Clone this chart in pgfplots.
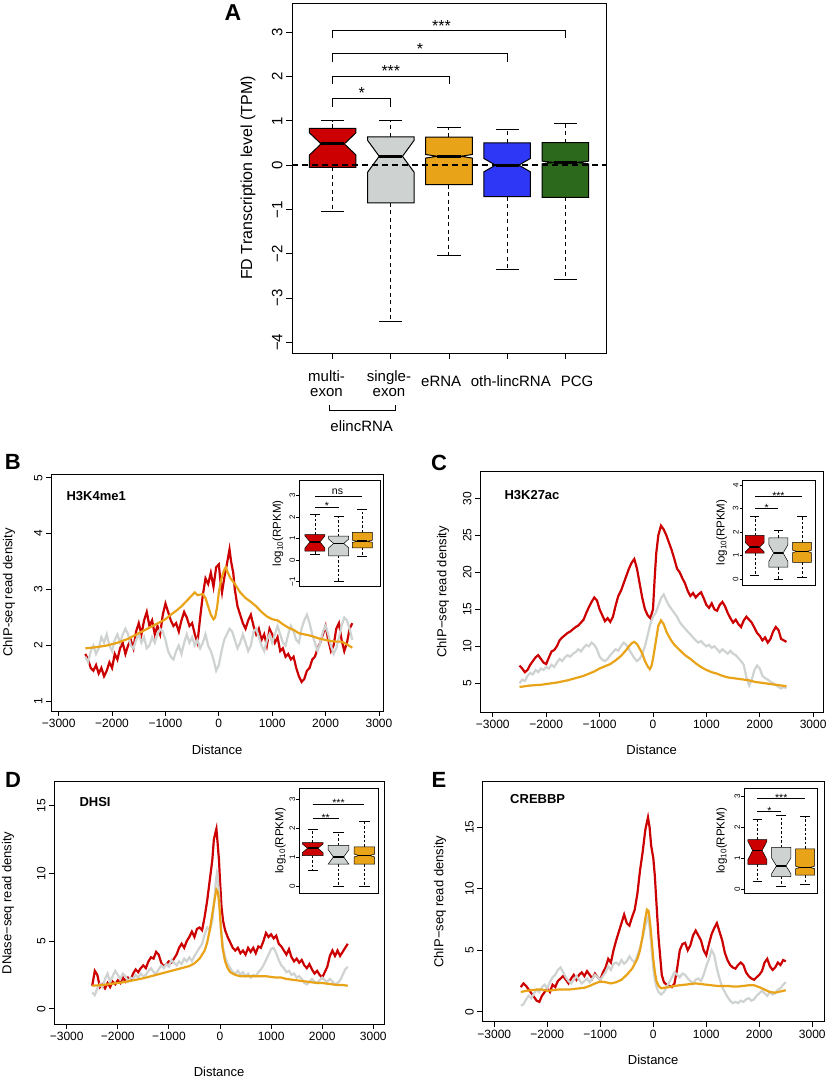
\documentclass[border=0pt]{standalone}
\usepackage{pgfplots}
\pgfplotsset{compat=1.18}
\usepackage{fontspec}
\setmainfont{Liberation Sans}
\definecolor{cred}{RGB}{204,0,0}
\definecolor{cgrey}{RGB}{206,211,209}
\definecolor{corange}{RGB}{233,163,25}
\definecolor{cblue}{RGB}{45,55,245}
\definecolor{cgreen}{RGB}{45,105,28}
\def\boxlw{1pt}\def\medlw{3pt}\def\dashp{on 4pt off 3.5pt}
% #1 center #2 halfwidth #3 lo #4 q1 #5 med #6 q3 #7 hi #8 notch #9 colour
\newcommand{\nbox}[9]{%
  \pgfmathsetmacro\xa{#1-#2}%
  \pgfmathsetmacro\xb{#1+#2}%
  \pgfmathsetmacro\xc{#1-#2/2}%
  \pgfmathsetmacro\xd{#1+#2/2}%
  \pgfmathsetmacro\na{#5-#8}%
  \pgfmathsetmacro\nb{#5+#8}%
  \edef\tmp{\noexpand\addplot[black, dash pattern=\dashp, line width=\boxlw] coordinates {(#1,#6) (#1,#7)};}\tmp
  \edef\tmp{\noexpand\addplot[black, dash pattern=\dashp, line width=\boxlw] coordinates {(#1,#4) (#1,#3)};}\tmp
  \edef\tmp{\noexpand\addplot[black, line width=\boxlw] coordinates {(\xc,#7) (\xd,#7)};}\tmp
  \edef\tmp{\noexpand\addplot[black, line width=\boxlw] coordinates {(\xc,#3) (\xd,#3)};}\tmp
  \edef\tmp{\noexpand\addplot[draw=black, fill=#9, line width=\boxlw] coordinates {(\xa,#4) (\xa,\na) (\xc,#5) (\xa,\nb) (\xa,#6) (\xb,#6) (\xb,\nb) (\xd,#5) (\xb,\na) (\xb,#4)} -- cycle;}\tmp
  \edef\tmp{\noexpand\addplot[black, line width=\medlw] coordinates {(\xc,#5) (\xd,#5)};}\tmp
}
\tikzset{sig/.style={font=\fontsize{10.5}{11}\selectfont, inner sep=0pt, anchor=south, yshift=1.5pt},
  sigs/.style={font=\fontsize{10.5}{11}\selectfont, inner sep=0pt, anchor=base, yshift=-3pt},
  catl/.style={font=\fontsize{15}{14.7}\selectfont, align=center, inner sep=0pt}}
\pgfplotsset{
  rbase/.style={scale only axis, anchor=south west, tick align=outside, tick pos=left,
    axis line style={line width=0.9pt}, every tick/.style={black, line width=0.8pt},
    major tick length=5pt, clip mode=individual,
    /pgf/number format/assume math mode=true},
  profile/.style={rbase, xtick={-3000,-2000,...,3000},
    xticklabels={−3000,−2000,−1000,0,1000,2000,3000},
    ticklabel style={font=\fontsize{12}{13}\selectfont},
    yticklabel style={rotate=90, anchor=south},
    label style={font=\fontsize{13}{14}\selectfont},
    xlabel={Distance}},
  inset/.style={rbase, xtick=\empty, major tick length=3pt,
    axis background/.style={fill=white},
    ticklabel style={font=\fontsize{8}{9}\selectfont},
    yticklabel style={rotate=90, anchor=south, inner sep=1pt},
    every tick/.style={black, line width=0.5pt}, axis line style={line width=0.7pt},
    ylabel={log\textsubscript{10}(RPKM)},
    ylabel style={font=\fontsize{11.5}{12}\selectfont, anchor=center}},
  lr/.style={cred, line width=2.2pt},
  lg/.style={cgrey, line width=2.2pt},
  lo/.style={corange, line width=2.2pt},
}
\begin{document}
\begin{tikzpicture}
\path[use as bounding box] (0,0) rectangle (832pt,1077pt);
% ---------------- Panel A
\begin{axis}[rbase, at={(292pt,724pt)}, width=314pt, height=350pt,
  xmin=0.3, xmax=5.7, ymin=-4.24, ymax=3.66, clip=false, major tick length=6pt,
  xtick={1,2,3,4,5}, xticklabels={,,,,},
  ytick={-4,-3,-2,-1,0,1,2,3}, yticklabels={−4,−3,−2,−1,0,1,2,3},
  yticklabel style={rotate=90, anchor=south, font=\fontsize{15}{15}\selectfont},
  ylabel={FD Transcription level (TPM)},
  ylabel style={at={(axis description cs:-0.14,0.5)}, anchor=center, font=\fontsize{16}{16}\selectfont}]
\nbox{1}{0.4}{-1.05}{-0.05}{0.48}{0.83}{1.0}{0.25}{cred}
\nbox{2}{0.4}{-3.52}{-0.85}{0.2}{0.64}{1.0}{0.36}{cgrey}
\nbox{3}{0.4}{-2.05}{-0.44}{0.2}{0.63}{0.85}{0.04}{corange}
\nbox{4}{0.4}{-2.36}{-0.71}{0.0}{0.5}{0.8}{0.15}{cblue}
\nbox{5}{0.4}{-2.57}{-0.73}{0.06}{0.51}{0.94}{0.03}{cgreen}
\addplot[black, line width=1.5pt, dash pattern=on 6pt off 4pt] coordinates {(0.3,0) (5.7,0)};
\addplot[black, line width=0.8pt] coordinates {(1,1.31) (1,1.5) (2,1.5) (2,1.31)};
\addplot[black, line width=0.8pt] coordinates {(1,1.83) (1,2.01) (3,2.01) (3,1.83)};
\addplot[black, line width=0.8pt] coordinates {(1,2.32) (1,2.53) (4,2.53) (4,2.32)};
\addplot[black, line width=0.8pt] coordinates {(1,2.86) (1,3.04) (5,3.04) (5,2.86)};
\node[font=\fontsize{16}{16}\selectfont] at (axis cs:1.5,1.62) {*};
\node[font=\fontsize{16}{16}\selectfont] at (axis cs:2,2.13) {***};
\node[font=\fontsize{16}{16}\selectfont] at (axis cs:2.5,2.63) {*};
\node[font=\fontsize{16}{16}\selectfont] at (axis cs:2.87,3.14) {***};
\end{axis}
\node[catl] at (326.5pt,693.6pt) {multi-\\exon};
\node[catl] at (389pt,693.6pt) {single-\\exon};
\node[catl] at (441.2pt,695.7pt) {eRNA};
\node[catl] at (510.8pt,695.7pt) {oth-lincRNA};
\node[catl] at (577pt,695.7pt) {PCG};
\draw[line width=0.8pt] (329.3pt,672pt) -- (329.3pt,667pt) -- (395.7pt,667pt) -- (395.7pt,672pt);
\node[font=\fontsize{15}{15}\selectfont] at (361.7pt,651pt) {elincRNA};
\node[font=\bfseries\fontsize{23}{23}\selectfont] at (233pt,1064pt) {A};
% ---------------- Panel B
\begin{axis}[profile, at={(51pt,366pt)}, width=332.3pt, height=237pt,
  xmin=-3144, xmax=3081, ymin=0.83, ymax=5.066, ytick={1,2,3,4,5},
  ylabel={ChIP-seq read density},
  ylabel style={at={(axis description cs:-0.126,0.5)}, anchor=center},
  xlabel style={at={(axis description cs:0.5,-0.165)}, anchor=center}]
\addplot[lr] coordinates {(-2500,1.85) (-2450,1.75) (-2400,1.6) (-2350,1.55) (-2300,1.65) (-2250,1.5) (-2200,1.6) (-2150,1.45) (-2100,1.55) (-2050,1.7) (-2000,1.6) (-1950,1.85) (-1900,1.75) (-1850,1.95) (-1800,2.05) (-1750,1.85) (-1700,2.0) (-1650,2.1) (-1600,1.95) (-1550,2.25) (-1500,2.4) (-1450,2.2) (-1400,2.45) (-1350,2.6) (-1300,2.35) (-1250,2.45) (-1200,2.2) (-1150,2.35) (-1100,2.2) (-1050,2.55) (-1000,2.75) (-950,2.6) (-900,2.45) (-850,2.35) (-800,2.4) (-750,2.25) (-700,2.45) (-650,2.6) (-600,2.5) (-550,2.35) (-500,2.4) (-450,2.2) (-400,2.05) (-350,2.5) (-300,2.9) (-250,3.2) (-200,3.1) (-150,3.3) (-100,3.05) (-50,3.4) (0,3.45) (30,3.15) (60,2.95) (100,3.2) (150,3.45) (200,3.72) (230,3.5) (270,3.3) (300,3.0) (350,2.7) (400,2.55) (450,2.4) (500,2.3) (550,2.45) (600,2.55) (650,2.35) (700,2.2) (750,2.3) (800,2.1) (850,2.2) (900,2.0) (950,2.3) (1000,2.2) (1050,2.05) (1100,2.15) (1150,1.9) (1200,1.95) (1250,1.8) (1300,1.85) (1350,1.75) (1400,1.8) (1450,1.6) (1500,1.45) (1550,1.35) (1600,1.4) (1650,1.55) (1700,1.6) (1750,1.75) (1800,1.8) (1850,1.95) (1900,2.05) (1950,2.2) (2000,2.35) (2050,2.1) (2100,1.9) (2150,2.0) (2200,2.3) (2250,2.4) (2300,2.1) (2350,1.9) (2400,2.05) (2450,2.3) (2500,2.4)};
\addplot[lg] coordinates {(-2500,1.8) (-2450,1.7) (-2400,1.9) (-2350,2.0) (-2300,1.85) (-2250,1.95) (-2200,2.15) (-2150,2.05) (-2100,2.2) (-2050,2.0) (-2000,1.9) (-1950,2.1) (-1900,2.2) (-1850,2.05) (-1800,2.2) (-1750,2.3) (-1700,2.2) (-1650,2.0) (-1600,1.95) (-1550,2.1) (-1500,2.2) (-1450,2.05) (-1400,2.15) (-1350,1.95) (-1300,2.0) (-1250,2.15) (-1200,2.05) (-1150,2.2) (-1100,2.3) (-1050,2.25) (-1000,2.1) (-950,1.9) (-900,1.8) (-850,1.75) (-800,1.9) (-750,2.0) (-700,1.85) (-650,2.05) (-600,2.2) (-550,2.05) (-500,2.15) (-450,2.0) (-400,2.1) (-350,1.95) (-300,2.05) (-250,2.2) (-200,2.0) (-150,1.9) (-100,1.75) (-50,1.55) (0,1.65) (50,1.9) (100,2.1) (150,2.2) (200,2.3) (250,2.25) (300,2.1) (350,1.95) (400,2.05) (450,2.2) (500,2.05) (550,1.9) (600,2.0) (650,2.25) (700,2.3) (750,2.15) (800,2.0) (850,1.9) (900,2.1) (950,2.2) (1000,2.05) (1050,2.2) (1100,2.35) (1150,2.2) (1200,2.05) (1250,2.0) (1300,2.2) (1350,2.35) (1400,2.25) (1450,2.1) (1500,2.05) (1550,2.3) (1600,2.45) (1650,2.55) (1700,2.4) (1750,2.2) (1800,2.05) (1850,1.9) (1900,2.05) (1950,2.25) (2000,2.35) (2050,2.2) (2100,2.0) (2150,1.85) (2200,1.95) (2250,2.15) (2300,2.35) (2350,2.5) (2400,2.45) (2450,2.3) (2500,2.1)};
\addplot[lo] coordinates {(-2500,1.95) (-2300,1.97) (-2100,2.0) (-1900,2.05) (-1700,2.12) (-1500,2.22) (-1300,2.32) (-1100,2.42) (-1000,2.47) (-900,2.55) (-800,2.62) (-700,2.7) (-600,2.8) (-500,2.9) (-450,2.95) (-400,2.9) (-300,2.92) (-250,2.85) (-200,2.7) (-150,2.55) (-100,2.47) (-70,2.5) (-30,2.7) (0,2.95) (50,3.2) (100,3.35) (130,3.4) (170,3.3) (220,3.2) (300,3.1) (400,2.95) (500,2.85) (600,2.78) (700,2.7) (800,2.6) (900,2.52) (1000,2.47) (1100,2.45) (1200,2.38) (1300,2.32) (1400,2.28) (1500,2.22) (1600,2.2) (1700,2.18) (1800,2.15) (1900,2.12) (2000,2.1) (2100,2.08) (2200,2.07) (2300,2.07) (2400,2.02) (2500,1.96)};
\end{axis}
\node[anchor=west, font=\bfseries\fontsize{13}{13}\selectfont] at (63pt,581.3pt) {H3K4me1};
\node[font=\bfseries\fontsize{22}{22}\selectfont] at (12.8pt,615pt) {B};
% ---------------- Panel C
\begin{axis}[profile, at={(480pt,365pt)}, width=343.3pt, height=240.3pt,
  xmin=-3240, xmax=3190, ymin=1.12, ymax=33.6, ytick={5,10,...,30},
  ylabel={ChIP−seq read density},
  ylabel style={at={(axis description cs:-0.108,0.5)}, anchor=center},
  xlabel style={at={(axis description cs:0.5,-0.158)}, anchor=center}]
\addplot[lr] coordinates {(-2500,7.4) (-2450,7.0) (-2400,6.5) (-2350,6.8) (-2300,7.5) (-2250,8.0) (-2200,8.5) (-2150,8.8) (-2100,8.3) (-2050,7.8) (-2000,7.6) (-1950,8.5) (-1900,9.3) (-1850,9.5) (-1800,10.0) (-1750,10.8) (-1700,11.2) (-1650,11.5) (-1600,11.8) (-1550,12.0) (-1500,12.3) (-1450,12.6) (-1400,12.8) (-1350,13.2) (-1300,13.6) (-1250,14.5) (-1200,15.3) (-1150,16.0) (-1100,16.6) (-1050,16.2) (-1000,15.0) (-950,14.2) (-900,13.4) (-850,13.8) (-800,13.3) (-750,14.0) (-700,15.5) (-650,16.8) (-600,17.5) (-550,18.5) (-500,19.5) (-450,20.5) (-400,21.3) (-350,21.8) (-300,20.5) (-250,18.5) (-200,16.5) (-150,15.0) (-100,14.2) (-50,13.8) (0,15.0) (30,19) (60,22.5) (100,25) (150,26.3) (200,25.8) (250,25) (300,24) (350,23) (400,21.8) (450,20.5) (500,20) (550,19.2) (600,18.5) (650,17.5) (700,16.8) (750,17.2) (800,16.6) (850,17.0) (900,17.3) (950,16.5) (1000,15.6) (1050,15.2) (1100,15.8) (1150,15.0) (1200,14.8) (1250,15.6) (1300,16.0) (1350,15.4) (1400,14.5) (1450,13.8) (1500,13.2) (1550,13.6) (1600,13.0) (1650,12.6) (1700,13.5) (1750,14.0) (1800,13.6) (1850,13.2) (1900,12.5) (1950,11.8) (2000,11.4) (2050,10.8) (2100,11.2) (2150,10.5) (2200,11.0) (2250,12.0) (2300,12.6) (2350,12.2) (2400,11.0) (2450,10.8) (2500,10.6)};
\addplot[lg] coordinates {(-2500,5.0) (-2450,5.5) (-2400,5.3) (-2350,6.0) (-2300,6.4) (-2250,6.2) (-2200,6.8) (-2150,6.5) (-2100,7.0) (-2050,6.8) (-2000,7.2) (-1950,7.0) (-1900,7.5) (-1850,7.2) (-1800,7.8) (-1750,8.3) (-1700,8.0) (-1650,8.5) (-1600,8.8) (-1550,8.6) (-1500,9.0) (-1450,9.2) (-1400,9.6) (-1350,9.3) (-1300,9.8) (-1250,10.2) (-1200,10.0) (-1150,10.5) (-1100,10.2) (-1050,9.6) (-1000,8.6) (-950,8.2) (-900,8.0) (-850,8.3) (-800,8.8) (-750,9.2) (-700,9.6) (-650,9.4) (-600,10.0) (-550,10.5) (-500,10.2) (-450,9.6) (-400,9.0) (-350,8.4) (-300,8.0) (-250,8.3) (-200,9.0) (-150,10.0) (-100,11.5) (-50,13.0) (0,14.0) (50,14.5) (100,15.5) (150,16.5) (200,17.0) (250,16.2) (300,15.5) (350,15.0) (400,14.5) (450,14.0) (500,13.3) (550,12.8) (600,12.4) (650,12.0) (700,11.6) (750,11.2) (800,10.8) (850,10.5) (900,10.7) (950,10.3) (1000,10.0) (1050,10.2) (1100,9.8) (1150,10.0) (1200,9.6) (1250,9.2) (1300,9.6) (1350,9.3) (1400,9.0) (1450,9.4) (1500,9.0) (1550,8.8) (1600,8.4) (1650,8.0) (1700,7.5) (1750,5.8) (1800,4.7) (1850,5.5) (1900,6.8) (1950,7.4) (2000,7.0) (2050,6.0) (2100,5.7) (2150,5.5) (2200,5.2) (2250,5.0) (2300,4.8) (2350,4.5) (2400,4.3) (2450,4.5) (2500,4.3)};
\addplot[lo] coordinates {(-2500,4.5) (-2300,4.7) (-2100,4.8) (-2000,4.9) (-1800,5.1) (-1600,5.4) (-1500,5.6) (-1400,5.8) (-1300,6.0) (-1200,6.3) (-1100,6.6) (-1000,7.0) (-900,7.3) (-800,7.6) (-700,8.1) (-600,8.7) (-500,9.5) (-450,10.0) (-400,10.4) (-350,10.6) (-300,10.3) (-250,9.7) (-200,9.0) (-150,8.0) (-100,7.3) (-60,6.9) (-30,7.3) (0,8.3) (50,10.5) (100,12.8) (150,13.5) (200,13.0) (250,12.0) (300,11.3) (350,10.7) (400,10.2) (500,9.5) (600,8.8) (700,8.3) (800,7.7) (900,7.2) (1000,6.8) (1100,6.5) (1200,6.3) (1300,6.0) (1400,5.8) (1500,5.7) (1600,5.6) (1700,5.5) (1800,5.4) (1900,5.2) (2000,5.1) (2100,5.0) (2200,4.9) (2300,4.8) (2400,4.7) (2500,4.6)};
\end{axis}
\node[anchor=west, font=\bfseries\fontsize{13}{13}\selectfont] at (501pt,582pt) {H3K27ac};
\node[font=\bfseries\fontsize{22}{22}\selectfont] at (439pt,614pt) {C};
% ---------------- Panel D
\begin{axis}[profile, at={(54pt,53pt)}, width=330.3pt, height=242.3pt,
  xmin=-3248, xmax=3215, ymin=-1.13, ymax=16.78, ytick={0,5,10,15},
  ylabel={DNase−seq read density},
  ylabel style={at={(axis description cs:-0.139,0.5)}, anchor=center},
  xlabel style={at={(axis description cs:0.5,-0.197)}, anchor=center}]
\addplot[lr] coordinates {(-2500,1.7) (-2450,2.8) (-2400,2.5) (-2350,1.6) (-2300,1.8) (-2250,1.5) (-2200,1.9) (-2150,1.6) (-2100,2.0) (-2050,1.8) (-2000,2.1) (-1950,1.9) (-1900,2.3) (-1850,2.0) (-1800,2.3) (-1750,2.1) (-1700,2.6) (-1650,2.9) (-1600,2.7) (-1550,3.0) (-1500,3.2) (-1450,3.0) (-1400,3.5) (-1350,3.8) (-1300,3.7) (-1250,4.2) (-1200,4.0) (-1150,3.4) (-1100,3.1) (-1050,3.3) (-1000,3.5) (-950,3.4) (-900,3.7) (-850,4.0) (-800,4.5) (-750,4.8) (-700,4.5) (-650,5.0) (-600,5.3) (-550,5.7) (-500,5.3) (-450,5.9) (-400,6.0) (-350,5.8) (-300,6.8) (-250,8.0) (-200,9.5) (-150,11.0) (-120,12.5) (-90,13.0) (-70,13.3) (-50,12.4) (-20,11.0) (0,9.5) (30,7.5) (60,6.5) (100,5.8) (150,5.3) (200,4.9) (250,4.5) (300,4.3) (350,4.5) (400,4.1) (450,4.3) (500,4.0) (550,4.5) (600,4.2) (650,4.5) (700,4.1) (750,4.6) (800,4.5) (850,5.0) (900,5.6) (950,5.3) (1000,5.5) (1050,5.2) (1100,5.4) (1150,4.8) (1200,4.6) (1250,4.3) (1300,4.0) (1350,4.4) (1400,3.8) (1450,3.5) (1500,3.7) (1550,3.4) (1600,3.6) (1650,3.2) (1700,3.0) (1750,3.3) (1800,2.9) (1850,2.6) (1900,2.8) (1950,2.5) (2000,2.3) (2050,2.7) (2100,3.1) (2150,3.9) (2200,4.3) (2250,3.9) (2300,4.3) (2350,3.9) (2400,4.2) (2450,4.5) (2500,4.8)};
\addplot[lg] coordinates {(-2500,1.2) (-2450,1.0) (-2400,1.5) (-2350,1.8) (-2300,1.6) (-2250,2.2) (-2200,2.6) (-2150,2.0) (-2100,2.4) (-2050,2.8) (-2000,2.5) (-1950,2.2) (-1900,2.6) (-1850,2.4) (-1800,2.0) (-1750,2.3) (-1700,2.2) (-1650,2.5) (-1600,2.3) (-1550,2.6) (-1500,2.4) (-1450,2.5) (-1400,2.8) (-1350,3.0) (-1300,2.7) (-1250,2.6) (-1200,2.9) (-1150,3.2) (-1100,3.0) (-1050,3.3) (-1000,3.1) (-950,3.6) (-900,3.4) (-850,3.2) (-800,3.5) (-750,3.3) (-700,3.7) (-650,3.5) (-600,3.8) (-550,3.5) (-500,3.9) (-450,4.2) (-400,4.5) (-350,4.8) (-300,5.5) (-250,6.0) (-200,5.8) (-150,6.5) (-110,8.0) (-80,9.5) (-60,10.0) (-40,9.5) (-20,8.5) (0,7.0) (30,5.5) (60,4.5) (100,3.8) (150,3.3) (200,3.0) (250,2.7) (300,2.6) (350,2.8) (400,2.5) (450,2.7) (500,2.4) (550,2.6) (600,2.3) (650,2.5) (700,2.4) (750,2.7) (800,2.9) (850,3.2) (900,3.6) (950,4.0) (1000,4.4) (1050,4.5) (1100,4.1) (1150,3.6) (1200,3.2) (1250,3.0) (1300,2.7) (1350,2.8) (1400,2.5) (1450,2.6) (1500,2.3) (1550,2.4) (1600,2.2) (1650,1.9) (1700,1.8) (1750,2.0) (1800,2.2) (1850,2.0) (1900,1.9) (1950,2.1) (2000,2.3) (2050,2.1) (2100,2.0) (2150,2.2) (2200,2.0) (2250,1.8) (2300,1.9) (2350,2.1) (2400,2.5) (2450,2.9) (2500,3.1)};
\addplot[lo] coordinates {(-2500,1.7) (-2300,1.75) (-2100,1.85) (-1900,1.95) (-1700,2.1) (-1500,2.25) (-1300,2.45) (-1100,2.65) (-1000,2.75) (-900,2.85) (-800,2.95) (-700,3.05) (-600,3.15) (-500,3.35) (-400,3.7) (-300,4.3) (-250,4.9) (-200,5.8) (-150,7.0) (-100,8.2) (-70,8.8) (-40,8.6) (-10,7.5) (20,5.8) (50,4.5) (100,3.5) (150,3.0) (200,2.7) (300,2.5) (400,2.4) (500,2.4) (600,2.4) (700,2.4) (800,2.4) (900,2.4) (1000,2.35) (1100,2.3) (1200,2.3) (1300,2.2) (1400,2.15) (1500,2.1) (1600,2.05) (1700,2.0) (1800,1.95) (1900,1.9) (2000,1.9) (2100,1.85) (2200,1.8) (2300,1.75) (2400,1.75) (2500,1.7)};
\end{axis}
\node[anchor=west, font=\bfseries\fontsize{13}{13}\selectfont] at (76pt,275.3pt) {DHSI};
\node[font=\bfseries\fontsize{22}{22}\selectfont] at (13pt,297pt) {D};
% ---------------- Panel E
\begin{axis}[profile, at={(482.3pt,55.3pt)}, width=341.7pt, height=240pt,
  xmin=-3226, xmax=3221, ymin=-0.81, ymax=18.7, ytick={0,5,10,15},
  ylabel={ChIP−seq read density},
  ylabel style={at={(axis description cs:-0.124,0.5)}, anchor=center},
  xlabel style={at={(axis description cs:0.5,-0.16)}, anchor=center}]
\addplot[lr] coordinates {(-2500,2.0) (-2450,2.3) (-2400,2.1) (-2350,1.8) (-2300,1.5) (-2250,1.2) (-2200,0.9) (-2150,0.8) (-2100,1.3) (-2050,1.6) (-2000,1.9) (-1950,1.6) (-1900,2.2) (-1850,2.0) (-1800,2.5) (-1750,2.7) (-1700,2.9) (-1650,2.6) (-1600,2.3) (-1550,2.7) (-1500,3.0) (-1450,2.6) (-1400,3.0) (-1350,3.2) (-1300,2.9) (-1250,3.3) (-1200,3.0) (-1150,2.7) (-1100,3.1) (-1050,2.8) (-1000,2.6) (-950,3.2) (-900,3.6) (-850,4.3) (-800,4.0) (-750,5.0) (-700,5.8) (-650,6.5) (-600,7.2) (-550,7.9) (-500,7.2) (-450,7.0) (-400,7.7) (-350,8.3) (-300,9.6) (-250,11.5) (-200,13.0) (-150,14.8) (-100,15.8) (-70,15.0) (-40,13.5) (0,12.5) (30,11.0) (60,8.8) (100,6.0) (130,4.5) (160,3.0) (200,2.4) (250,2.2) (300,2.1) (350,2.0) (400,2.3) (450,3.5) (500,5.0) (550,5.5) (600,5.6) (650,5.0) (700,5.4) (750,6.2) (800,6.6) (850,6.2) (900,5.8) (950,5.0) (1000,4.6) (1050,5.5) (1100,6.3) (1150,6.8) (1200,7.2) (1250,6.5) (1300,5.8) (1350,4.8) (1400,4.2) (1450,3.8) (1500,3.6) (1550,3.5) (1600,3.8) (1650,4.0) (1700,3.8) (1750,3.2) (1800,2.9) (1850,2.7) (1900,2.6) (1950,2.8) (2000,3.0) (2050,3.3) (2100,4.0) (2150,4.3) (2200,3.7) (2250,3.4) (2300,3.6) (2350,4.0) (2400,3.8) (2450,4.2) (2500,4.1)};
\addplot[lg] coordinates {(-2500,0.5) (-2450,0.6) (-2400,1.0) (-2350,1.3) (-2300,1.1) (-2250,1.5) (-2200,1.8) (-2150,1.6) (-2100,2.0) (-2050,2.2) (-2000,1.9) (-1950,2.4) (-1900,2.8) (-1850,3.0) (-1800,3.4) (-1750,3.6) (-1700,3.2) (-1650,2.8) (-1600,2.5) (-1550,2.3) (-1500,2.6) (-1450,2.9) (-1400,2.6) (-1350,2.3) (-1300,2.5) (-1250,2.7) (-1200,2.4) (-1150,2.7) (-1100,3.0) (-1050,2.8) (-1000,2.6) (-950,2.9) (-900,3.2) (-850,3.7) (-800,3.4) (-750,3.9) (-700,4.0) (-650,3.8) (-600,4.2) (-550,3.9) (-500,4.1) (-450,4.5) (-400,4.2) (-350,4.0) (-300,4.6) (-250,5.2) (-200,6.0) (-150,7.0) (-110,7.6) (-80,7.3) (-50,6.0) (-20,4.5) (0,3.5) (30,2.6) (60,2.0) (100,1.6) (150,1.4) (200,1.6) (250,2.0) (300,2.4) (350,2.8) (400,3.2) (450,3.0) (500,2.8) (550,3.1) (600,3.0) (650,2.7) (700,2.5) (750,2.3) (800,2.6) (850,2.7) (900,2.5) (950,3.0) (1000,3.7) (1050,4.3) (1100,5.0) (1150,4.6) (1200,3.5) (1250,2.7) (1300,2.0) (1350,1.6) (1400,1.2) (1450,0.9) (1500,0.7) (1550,0.8) (1600,0.7) (1650,0.9) (1700,0.8) (1750,1.0) (1800,1.1) (1850,0.9) (1900,1.0) (1950,1.3) (2000,1.5) (2050,1.7) (2100,1.5) (2150,1.3) (2200,1.6) (2250,1.4) (2300,1.5) (2350,1.8) (2400,1.9) (2450,2.2) (2500,2.4)};
\addplot[lo] coordinates {(-2500,1.6) (-2400,1.7) (-2300,1.75) (-2200,1.8) (-2100,1.8) (-2000,1.7) (-1900,1.75) (-1800,1.8) (-1700,1.8) (-1600,1.8) (-1500,1.85) (-1400,1.9) (-1300,1.95) (-1200,2.1) (-1100,2.3) (-1000,2.45) (-900,2.4) (-800,2.3) (-700,2.4) (-600,2.6) (-500,3.0) (-400,3.5) (-300,4.3) (-250,5.0) (-200,6.2) (-150,7.6) (-120,8.3) (-90,8.2) (-60,7.2) (-30,5.8) (0,4.3) (30,3.2) (60,2.5) (100,2.1) (150,1.9) (200,1.95) (300,2.0) (400,2.1) (500,2.15) (600,2.2) (700,2.25) (800,2.3) (900,2.25) (1000,2.2) (1100,2.15) (1200,2.1) (1300,2.1) (1400,2.1) (1500,2.05) (1600,2.05) (1700,2.1) (1800,2.15) (1900,2.15) (2000,2.0) (2100,1.8) (2200,1.6) (2300,1.55) (2400,1.65) (2500,1.75)};
\end{axis}
\node[anchor=west, font=\bfseries\fontsize{13}{13}\selectfont] at (506.7pt,278pt) {CREBBP};
\node[font=\bfseries\fontsize{22}{22}\selectfont] at (439pt,297pt) {E};
% ---------------- Insets
\def\boxlw{0.5pt}\def\medlw{1.8pt}\def\dashp{on 2.5pt off 2pt}
\begin{axis}[inset, at={(299.3pt,490.3pt)}, width=80.7pt, height=106.7pt,
  xmin=0.34, xmax=3.74, ymin=-1.23, ymax=3.73,
  ytick={-1,0,1,2,3}, yticklabels={−1,0,1,2,3},
  ylabel style={at={(axis description cs:-0.264,0.5)}}]
\nbox{1}{0.42}{0.28}{0.42}{0.85}{1.19}{2.14}{0.28}{cred}
\nbox{2}{0.42}{-1.0}{0.2}{0.78}{1.12}{2.06}{0.2}{cgrey}
\nbox{3}{0.42}{0.2}{0.57}{0.88}{1.29}{2.36}{0.05}{corange}
\addplot[black, line width=0.5pt] coordinates {(1,2.98) (3,2.98)};
\addplot[black, line width=0.5pt] coordinates {(1,2.48) (2,2.48)};
\node[sig] at (axis cs:1.95,2.98) {ns};
\node[sigs] at (axis cs:1.5,2.48) {*};
\end{axis}
\begin{axis}[inset, at={(742.7pt,492pt)}, width=73pt, height=105pt,
  xmin=0.49, xmax=3.58, ymin=-0.26, ymax=4.21,
  ytick={0,1,2,3,4},
  ylabel style={at={(axis description cs:-0.29,0.5)}}]
\nbox{1}{0.4}{0.15}{1.1}{1.35}{1.85}{2.65}{0.2}{cred}
\nbox{2}{0.4}{0.0}{0.5}{1.1}{1.75}{2.05}{0.35}{cgrey}
\nbox{3}{0.4}{0.05}{0.7}{1.17}{1.55}{2.65}{0.05}{corange}
\addplot[black, line width=0.5pt] coordinates {(1,3.5) (3,3.5)};
\addplot[black, line width=0.5pt] coordinates {(1,3.0) (2,3.0)};
\node[sigs] at (axis cs:2,3.5) {***};
\node[sigs] at (axis cs:1.5,3.0) {*};
\end{axis}
\begin{axis}[inset, at={(299.3pt,183.7pt)}, width=79pt, height=105pt,
  xmin=0.48, xmax=3.54, ymin=-0.26, ymax=3.38,
  ytick={0,1,2,3},
  ylabel style={at={(axis description cs:-0.24,0.5)}}]
\nbox{1}{0.4}{0.55}{1.05}{1.3}{1.5}{1.95}{0.15}{cred}
\nbox{2}{0.4}{0.0}{0.75}{1.0}{1.4}{1.85}{0.25}{cgrey}
\nbox{3}{0.4}{0.0}{0.75}{1.05}{1.35}{2.25}{0.05}{corange}
\addplot[black, line width=0.5pt] coordinates {(1,2.84) (3,2.84)};
\addplot[black, line width=0.5pt] coordinates {(1,2.33) (2,2.33)};
\node[sigs] at (axis cs:2,2.84) {***};
\node[sigs] at (axis cs:1.5,2.33) {**};
\end{axis}
\begin{axis}[inset, at={(744.3pt,183.7pt)}, width=73.4pt, height=105pt,
  xmin=0.45, xmax=3.53, ymin=-0.14, ymax=3.27,
  ytick={0,1,2,3},
  ylabel style={at={(axis description cs:-0.31,0.5)}}]
\nbox{1}{0.4}{0.25}{0.8}{1.25}{1.6}{2.25}{0.3}{cred}
\nbox{2}{0.4}{0.1}{0.4}{0.75}{1.35}{2.4}{0.25}{cgrey}
\nbox{3}{0.4}{0.15}{0.45}{0.7}{1.3}{2.35}{0.04}{corange}
\addplot[black, line width=0.5pt] coordinates {(1,2.95) (3,2.95)};
\addplot[black, line width=0.5pt] coordinates {(1,2.53) (2,2.53)};
\node[sigs] at (axis cs:2,2.95) {***};
\node[sigs] at (axis cs:1.5,2.53) {*};
\end{axis}
\end{tikzpicture}
\end{document}
